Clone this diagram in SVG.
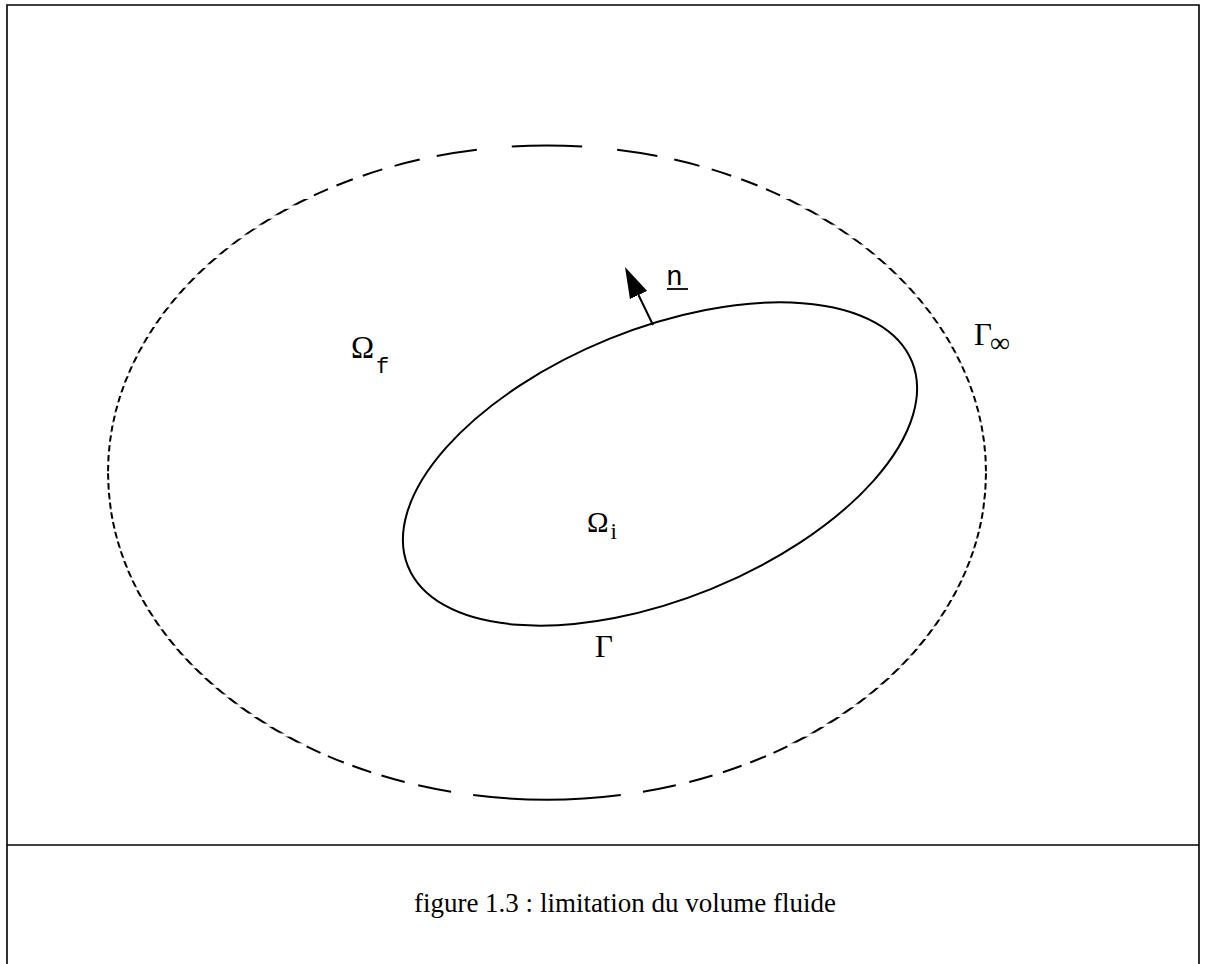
<svg xmlns="http://www.w3.org/2000/svg" width="1205" height="964" viewBox="0 0 1205 964">
<style>
.ln{fill:none;stroke:#000;stroke-width:2}
.ds{fill:none;stroke:#000;stroke-width:2;stroke-linecap:butt}
.frame{fill:none;stroke:#000;stroke-width:1.6}
.sym{font-family:"Liberation Serif","Times New Roman",serif;fill:#000}
.mono{font-family:"Liberation Mono","Courier New",monospace;fill:#000}
.cap{font-family:"Liberation Serif","Times New Roman",serif;font-size:27px;fill:#000}
</style>
<defs>
<pattern id="pt" patternUnits="userSpaceOnUse" x="0" y="149.7" width="1205" height="9.85"><rect width="1205" height="6.3" fill="#fff"/></pattern>
<pattern id="pb" patternUnits="userSpaceOnUse" x="0" y="785.3" width="1205" height="9.75"><rect width="1205" height="6.5" fill="#fff"/></pattern>
<mask id="dashmask" maskUnits="userSpaceOnUse" x="0" y="0" width="1205" height="964">
<rect x="0" y="197.5" width="1205" height="274.5" fill="url(#pt)"/>
<rect x="0" y="472" width="1205" height="273" fill="url(#pb)"/>
</mask>
<marker id="ah" markerUnits="userSpaceOnUse" markerWidth="32" markerHeight="20" refX="0" refY="9.5" orient="auto" viewBox="0 0 32 19"><path d="M0,0 L31,9.5 L0,19 Z" fill="#000"/></marker>
</defs>
<rect width="1205" height="964" fill="#fff"/>
<g id="frame">
<path class="frame" d="M7,964 V5 H1199 V964"/>
<path class="frame" d="M7,845 H1199"/>
</g>
<g id="outer-boundary">
<ellipse class="ln" cx="547" cy="472.6" rx="439" ry="327.1" mask="url(#dashmask)"/>
<path class="ds" d="M511.8,146.55 A439,327.1 0 0 1 582.2,146.55
M617.1,149.7 A439,327.1 0 0 1 657.3,156
M436.7,156 A439,327.1 0 0 1 476.9,149.7
M674.3,159.55 A439,327.1 0 0 1 699.4,165.85
M394.6,165.85 A439,327.1 0 0 1 419.7,159.55
M711.7,169.4 A439,327.1 0 0 1 731.2,175.7
M362.8,175.7 A439,327.1 0 0 1 382.3,169.4
M741.2,179.25 A439,327.1 0 0 1 757.5,185.55
M336.5,185.55 A439,327.1 0 0 1 352.8,179.25
M766,189.1 A439,327.1 0 0 1 780.1,195.4
M313.9,195.4 A439,327.1 0 0 1 328,189.1"/>
<path class="ds" d="M620.8,795.05 A439,327.1 0 0 1 473.2,795.05
M675.8,785.3 A439,327.1 0 0 1 642.9,791.8
M451.1,791.8 A439,327.1 0 0 1 418.2,785.3
M712.5,775.55 A439,327.1 0 0 1 689.3,782.05
M404.7,782.05 A439,327.1 0 0 1 381.5,775.55
M741.6,765.8 A439,327.1 0 0 1 722.9,772.3
M371.1,772.3 A439,327.1 0 0 1 352.4,765.8
M766.1,756.05 A439,327.1 0 0 1 750.2,762.55
M343.8,762.55 A439,327.1 0 0 1 327.9,756.05
M787.4,746.3 A439,327.1 0 0 1 773.5,752.8
M320.5,752.8 A439,327.1 0 0 1 306.6,746.3"/>
</g>
<g id="body">
<ellipse class="ln" cx="660" cy="464" rx="272" ry="135" transform="rotate(-22.1 660 464)"/>
</g>
<g id="connectors">
<line class="ln" x1="653" y1="325" x2="638.5" y2="295" marker-end="url(#ah)"/>
</g>
<g id="labels">
<g id="label-omega-f"><text class="sym" x="351" y="358" font-size="31">&#937;</text><text class="mono" x="376" y="373" font-size="22">f</text></g>
<g id="label-omega-i"><text class="sym" x="587" y="532" font-size="29">&#937;</text><text class="sym" x="610.5" y="539" font-size="23">i</text></g>
<g id="label-gamma"><text class="sym" x="595" y="657" font-size="31">&#915;</text></g>
<g id="label-gamma-inf"><text class="sym" x="974" y="345" font-size="31">&#915;</text><text class="sym" x="990" y="352" font-size="28">&#8734;</text></g>
<g id="label-n"><text class="mono" x="666" y="285" font-size="28">n</text><line x1="667" y1="289" x2="688" y2="289" stroke="#000" stroke-width="1.8"/></g>
</g>
<g id="caption">
<text class="cap" x="625" y="912" text-anchor="middle">figure 1.3 : limitation du volume fluide</text>
</g>
</svg>
